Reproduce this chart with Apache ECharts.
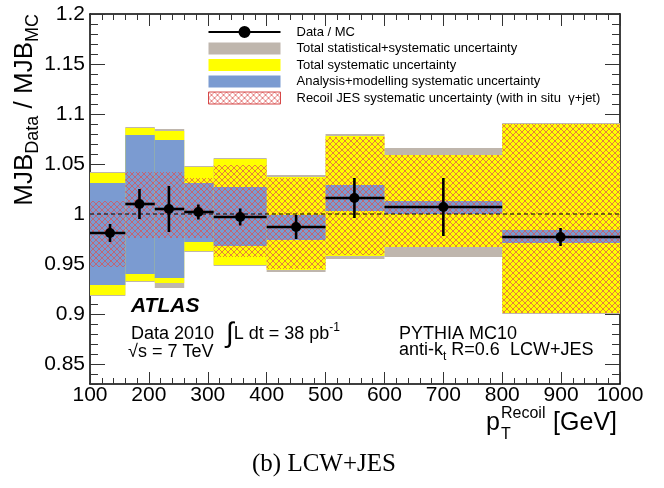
<!DOCTYPE html>
<html>
<head>
<meta charset="utf-8">
<script src="https://cdn.jsdelivr.net/npm/echarts@6/dist/echarts.min.js"></script>
<style>
html,body{margin:0;padding:0;background:#fff;}
#c{width:664px;height:488px;}
</style>
</head>
<body>
<div id="c"></div>
<script>
// ---- data ----
const binLow  = [100, 160, 210, 260, 310, 400, 500, 600, 800];
const binHigh = [160, 210, 260, 310, 400, 500, 600, 800, 1000];
const ptX     = [134, 184, 234, 284, 355, 450, 549, 700, 899];
const ratio   = [0.981, 1.010, 1.005, 1.002, 0.997, 0.987, 1.016, 1.007, 0.977];
const statErr = [0.009, 0.015, 0.023, 0.0075, 0.0085, 0.012, 0.020, 0.029, 0.009];

const totLow  = [0.918, 0.932, 0.926, 0.962, 0.948, 0.942, 0.955, 0.957, 0.900];
const totHigh = [1.042, 1.087, 1.085, 1.048, 1.056, 1.039, 1.080, 1.066, 1.091];
const sysLow  = [0.919, 0.933, 0.931, 0.963, 0.949, 0.944, 0.958, 0.967, 0.901];
const sysHigh = [1.041, 1.086, 1.083, 1.047, 1.055, 1.037, 1.078, 1.059, 1.090];
const anaLow  = [0.929, 0.940, 0.936, 0.972, 0.968, 0.974, 1.003, 1.000, 0.971];
const anaHigh = [1.031, 1.079, 1.074, 1.031, 1.027, 0.999, 1.029, 1.013, 0.984];
const jesLow  = [0.947, 0.976, 0.976, 0.976, 0.957, 0.945, 0.959, 0.967, 0.901];
const jesHigh = [1.013, 1.042, 1.042, 1.036, 1.049, 1.036, 1.077, 1.059, 1.090];

const names = {
  data: 'Data / MC',
  tot: 'Total statistical+systematic uncertainty',
  sys: 'Total systematic uncertainty',
  ana: 'Analysis+modelling systematic uncertainty',
  jes: 'Recoil JES systematic uncertainty (with in situ  \u03b3+jet)'
};

const FONT = '"Liberation Sans", Arial, Helvetica, sans-serif';

function hatch(bg) {
  const n = 6;
  const c = document.createElement('canvas');
  c.width = n; c.height = n;
  const ctx = c.getContext('2d');
  if (bg) { ctx.fillStyle = bg; ctx.fillRect(0, 0, n, n); }
  ctx.fillStyle = 'rgba(220,80,80,0.72)';
  for (let i = 0; i < n; i++) {
    ctx.fillRect(i, i, 1, 1);
    if (n - 1 - i !== i) ctx.fillRect(n - 1 - i, i, 1, 1);
  }
  return c;
}
const hatchPattern = { image: hatch(null), repeat: 'repeat' };
const hatchLegend = { image: hatch('#ffffff'), repeat: 'repeat' };

function bandRows(lo, hi) {
  return binLow.map((b, i) => [b, binHigh[i], lo[i], hi[i]]);
}
function bandRender(fill) {
  return function (params, api) {
    const p1 = api.coord([api.value(0), api.value(3)]);
    const p2 = api.coord([api.value(1), api.value(2)]);
    return {
      type: 'rect',
      shape: { x: p1[0], y: p1[1], width: p2[0] - p1[0], height: p2[1] - p1[1] },
      style: { fill: fill }
    };
  };
}
function bandSeries(name, lo, hi, color, fill) {
  return {
    type: 'custom', name: name, coordinateSystem: 'cartesian2d',
    itemStyle: { color: color },
    encode: { x: [0, 1], y: [2, 3] },
    data: bandRows(lo, hi),
    renderItem: bandRender(fill || color),
    silent: true
  };
}

const dataRows = ptX.map((x, i) => [x, ratio[i], binLow[i], binHigh[i], statErr[i]]);

const chart = echarts.init(document.getElementById('c'), null, { renderer: 'canvas' });

const majorY = {
  type: 'value', min: 0.83, max: 1.2, splitNumber: 7, minInterval: 0.05, maxInterval: 0.05,
  splitLine: { show: false }
};
const minorY = {
  type: 'value', min: 0.83, max: 1.2, interval: 0.01,
  splitLine: { show: false }, axisLine: { show: false }, axisLabel: { show: false }
};

chart.setOption({
  animation: false,
  backgroundColor: '#fff',
  grid: { left: 90, right: 44, top: 14, bottom: 104 },
  xAxis: [
    {
      type: 'value', position: 'bottom', min: 100, max: 1000, interval: 100,
      axisLine: { lineStyle: { color: '#000', width: 1.5 } },
      axisTick: { inside: true, length: 12, lineStyle: { color: '#333', width: 1 } },
      minorTick: { show: true, splitNumber: 5, length: 6, lineStyle: { color: '#333', width: 1 } },
      axisLabel: { fontFamily: FONT, fontSize: 21, color: '#000', margin: 1, formatter: v => String(v) },
      splitLine: { show: false }
    },
    {
      type: 'value', position: 'top', min: 100, max: 1000, interval: 100,
      axisLine: { lineStyle: { color: '#000', width: 1.5 } },
      axisTick: { inside: true, length: 12, lineStyle: { color: '#333', width: 1 } },
      minorTick: { show: true, splitNumber: 5, length: 6, lineStyle: { color: '#333', width: 1 } },
      axisLabel: { show: false },
      splitLine: { show: false }
    }
  ],
  yAxis: [
    Object.assign({}, majorY, {
      position: 'left',
      axisLine: { lineStyle: { color: '#000', width: 1.5 } },
      axisTick: { inside: true, length: 15, lineStyle: { color: '#333', width: 1 } },
      axisLabel: { fontFamily: FONT, fontSize: 21, color: '#000', margin: 5, showMinLabel: false }
    }),
    Object.assign({}, minorY, {
      position: 'left',
      axisTick: { inside: true, length: 8, lineStyle: { color: '#333', width: 1 } }
    }),
    Object.assign({}, majorY, {
      position: 'right',
      axisLine: { lineStyle: { color: '#000', width: 1.5 } },
      axisTick: { inside: true, length: 15, lineStyle: { color: '#333', width: 1 } },
      axisLabel: { show: false }
    }),
    Object.assign({}, minorY, {
      position: 'right',
      axisTick: { inside: true, length: 8, lineStyle: { color: '#333', width: 1 } }
    })
  ],
  legend: {
    orient: 'vertical', left: 208, top: 24, padding: 0,
    itemWidth: 72, itemHeight: 12, itemGap: 0.5,
    selectedMode: false,
    textStyle: { fontFamily: FONT, fontSize: 13, color: '#000', lineHeight: 16, padding: [0, 0, 0, 11] },
    data: [
      { name: names.data, icon: 'path://M0,5L31,5L31,7L0,7Z M30,6a6,6 0 1,1 12,0a6,6 0 1,1 -12,0Z M41,5L72,5L72,7L41,7Z' },
      { name: names.tot, icon: 'rect' },
      { name: names.sys, icon: 'rect' },
      { name: names.ana, icon: 'rect' },
      { name: names.jes, icon: 'rect', itemStyle: { color: hatchLegend, borderColor: '#d64848', borderWidth: 1 } }
    ]
  },
  series: [
    bandSeries(names.tot, totLow, totHigh, '#bfb6ad'),
    bandSeries(names.sys, sysLow, sysHigh, '#ffff00'),
    bandSeries(names.ana, anaLow, anaHigh, '#7b9bd1'),
    bandSeries(names.jes, jesLow, jesHigh, hatchPattern, hatchPattern),
    {
      type: 'line', name: 'unity', data: [[100, 1], [1000, 1]],
      symbol: 'none', silent: true,
      lineStyle: { color: '#000', width: 1, type: [4, 3] }
    },
    {
      type: 'custom', name: names.data, coordinateSystem: 'cartesian2d',
      itemStyle: { color: '#000' },
      encode: { x: 0, y: 1 },
      data: dataRows,
      renderItem: function (params, api) {
        const x = api.value(0), y = api.value(1);
        const xlo = api.value(2), xhi = api.value(3), e = api.value(4);
        const c = api.coord([x, y]);
        const l = api.coord([xlo, y]), r = api.coord([xhi, y]);
        const t = api.coord([x, y + e]), b = api.coord([x, y - e]);
        return {
          type: 'group',
          children: [
            { type: 'line', shape: { x1: l[0], y1: l[1], x2: r[0], y2: r[1] }, style: { stroke: '#000', lineWidth: 2.6 } },
            { type: 'line', shape: { x1: t[0], y1: t[1], x2: b[0], y2: b[1] }, style: { stroke: '#000', lineWidth: 2.6 } },
            { type: 'circle', shape: { cx: c[0], cy: c[1], r: 5 }, style: { fill: '#000' } }
          ]
        };
      }
    }
  ],
  graphic: [
    // y-axis title
    {
      type: 'text', x: 27, y: 14, rotation: Math.PI / 2,
      style: {
        text: '{m|MJB}{s|Data}{m| / MJB}{s|MC}',
        align: 'right', verticalAlign: 'middle',
        rich: {
          m: { fontFamily: FONT, fontSize: 26, color: '#000', lineHeight: 30, verticalAlign: 'top' },
          s: { fontFamily: FONT, fontSize: 18, color: '#000', lineHeight: 18, verticalAlign: 'bottom', padding: [15, 0, 0, 0] }
        }
      }
    },
    // x-axis title
    { type: 'text', x: 486, y: 423, style: { text: 'p', font: '25px ' + FONT, fill: '#000', verticalAlign: 'middle' } },
    { type: 'text', x: 501, y: 414, style: { text: 'Recoil', font: '16px ' + FONT, fill: '#000', verticalAlign: 'middle' } },
    { type: 'text', x: 501, y: 435, style: { text: 'T', font: '16px ' + FONT, fill: '#000', verticalAlign: 'middle' } },
    { type: 'text', x: 617, y: 423, style: { text: '[GeV]', font: '25px ' + FONT, fill: '#000', align: 'right', verticalAlign: 'middle' } },
    // annotations
    { type: 'text', x: 131, y: 306, style: { text: 'ATLAS', font: 'italic bold 21px ' + FONT, fill: '#000', verticalAlign: 'middle' } },
    { type: 'text', x: 131, y: 334, style: { text: 'Data 2010', font: '18px ' + FONT, fill: '#000', verticalAlign: 'middle' } },
    {
      type: 'text', x: 226, y: 334,
      style: {
        text: '{i|\u222b}{a|L dt = 38 pb}{b|-1}', verticalAlign: 'middle',
        rich: {
          i: { fontFamily: FONT, fontSize: 28, color: '#000', verticalAlign: 'middle' },
          a: { fontFamily: FONT, fontSize: 18, color: '#000', verticalAlign: 'middle' },
          b: { fontFamily: FONT, fontSize: 12, color: '#000', verticalAlign: 'top', padding: [2, 0, 8, 0] }
        }
      }
    },
    { type: 'text', x: 128, y: 352, style: { text: '\u221as = 7 TeV', font: '18px ' + FONT, fill: '#000', verticalAlign: 'middle' } },
    { type: 'text', x: 399, y: 334, style: { text: 'PYTHIA MC10', font: '18px ' + FONT, fill: '#000', verticalAlign: 'middle' } },
    {
      type: 'text', x: 399, y: 352,
      style: {
        text: '{a|anti-k}{s|t}{a| R=0.6  LCW+JES}', verticalAlign: 'middle',
        rich: {
          a: { fontFamily: FONT, fontSize: 18, color: '#000', lineHeight: 22, verticalAlign: 'top' },
          s: { fontFamily: FONT, fontSize: 12, color: '#000', lineHeight: 12, verticalAlign: 'bottom', padding: [14, 0, 0, 0] }
        }
      }
    },
    // caption
    { type: 'text', x: 324, y: 464, style: { text: '(b) LCW+JES', font: '25px "Liberation Serif", "Times New Roman", serif', fill: '#000', align: 'center', verticalAlign: 'middle' } }
  ]
});
</script>
</body>
</html>
